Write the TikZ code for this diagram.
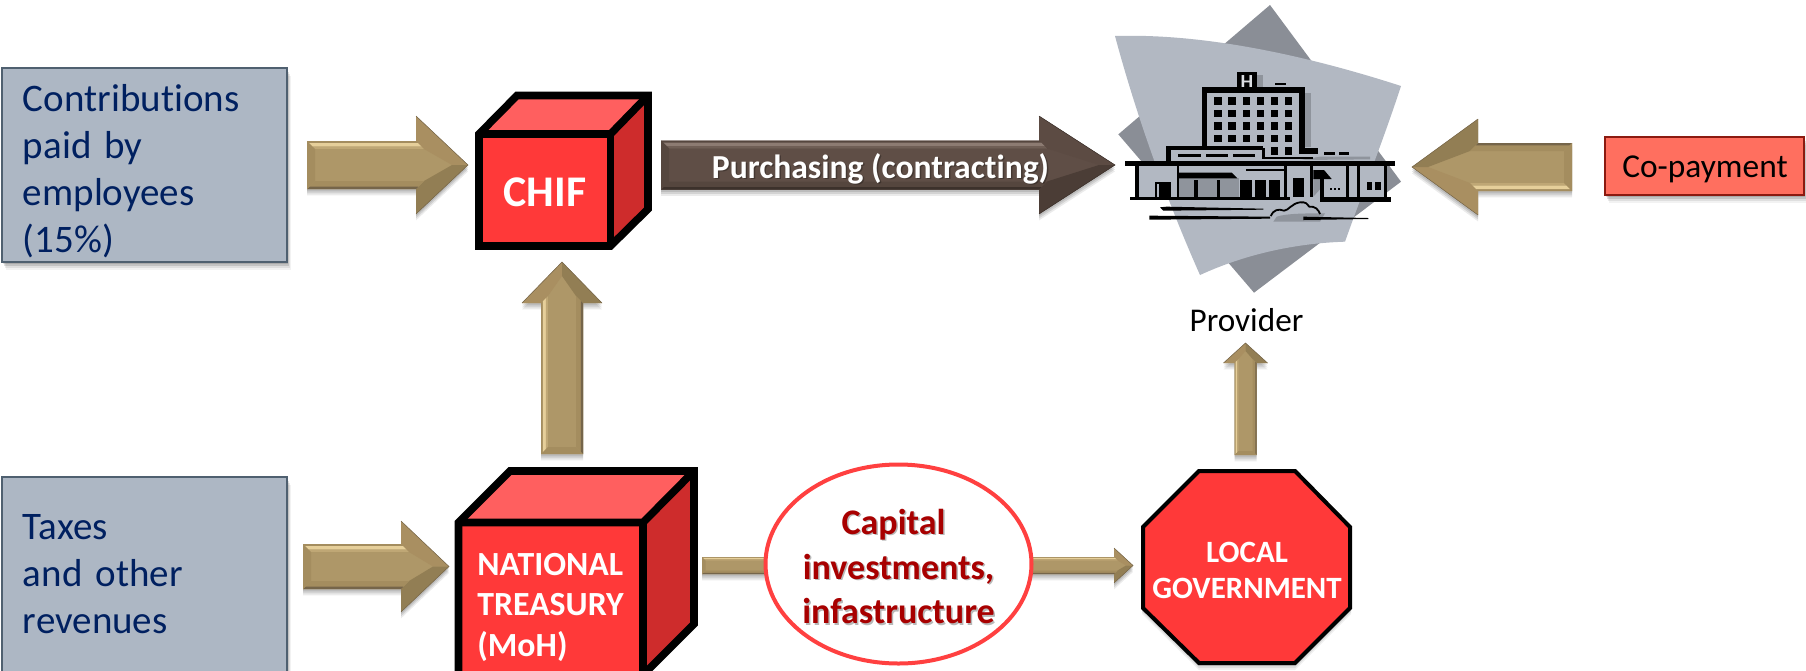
\documentclass[tikz,border=0pt]{standalone}
\usepackage{fontspec}
\setmainfont[Ligatures={NoCommon,NoRequired,NoContextual}]{Carlito}
\usetikzlibrary{shapes.geometric}
\definecolor{tanBase}{HTML}{AE9768}
\definecolor{tanLight}{HTML}{E6CF9A}
\definecolor{tanMid}{HTML}{BFA775}
\definecolor{tanEdge}{HTML}{A48D5F}
\definecolor{tanDark}{HTML}{75654A}
\definecolor{tanHtop}{HTML}{A98F61}
\definecolor{tanHbot}{HTML}{927E54}
\definecolor{brnBase}{HTML}{5F4E46}
\definecolor{brnLight}{HTML}{8C7B72}
\definecolor{brnMid}{HTML}{6F5E55}
\definecolor{brnEdge}{HTML}{55463E}
\definecolor{brnDark}{HTML}{3C312B}
\definecolor{brnHtop}{HTML}{5C4B43}
\definecolor{brnHbot}{HTML}{4B3D36}
\definecolor{boxFill}{HTML}{ADB7C4}
\definecolor{boxLine}{HTML}{4F6070}
\definecolor{navy}{HTML}{002060}
\definecolor{cubeFront}{HTML}{FF3939}
\definecolor{cubeTop}{HTML}{FF5F5F}
\definecolor{cubeSide}{HTML}{CE2C2C}
\definecolor{copayFill}{HTML}{FF6F5F}
\definecolor{copayLine}{HTML}{8B1A10}
\definecolor{ringRed}{HTML}{FF4040}
\definecolor{capRed}{HTML}{A80000}
\definecolor{hospBack}{HTML}{8A8E96}
\definecolor{hospFront}{HTML}{B2B8C2}
\definecolor{hospShade}{HTML}{8F949C}
% #1 tail coordinate, #2 angle, #3 length, #4 head start, #5 shaft half, #6 head half, #7 bevel, #8 colour prefix
\newcommand{\bevelarrow}[8]{%
  \foreach \sh/\op in {1.2pt/0.10,2.2pt/0.10,3.2pt/0.08}{%
  \begin{scope}[shift={(#1)},yshift=-\sh,rotate=#2]
    \fill[black,opacity=\op] (0,-#5)--(#4,-#5)--(#4,-#6)--(#3,0)--(#4,#6)--(#4,#5)--(0,#5)--cycle;
  \end{scope}}%
  \begin{scope}[shift={(#1)},rotate=#2]
    \fill[#8Base] (0,-#5)--(#4,-#5)--(#4,-#6)--(#3,0)--(#4,#6)--(#4,#5)--(0,#5)--cycle;
    \fill[#8Htop] (#4,-#6)--(#3,0)--({#3-2*#7},0)--({#4+#7},{-#5+#7})--(#4,-#5)--cycle;
    \fill[#8Hbot] (#4,#6)--(#3,0)--({#3-2*#7},0)--({#4+#7},{#5-#7})--(#4,#5)--cycle;
    \fill[#8Edge] (0,-#5)--(#4,-#5)--({#4+#7},{-#5+#7})--(#7,{-#5+#7})--cycle;
    \fill[#8Light] (0.25*#7,{-#5+0.25*#7})--({#4+0.25*#7},{-#5+0.25*#7})--({#4+0.7*#7},{-#5+0.7*#7})--(0.7*#7,{-#5+0.7*#7})--cycle;
    \fill[#8Mid] (0.7*#7,{-#5+0.7*#7})--({#4+0.7*#7},{-#5+0.7*#7})--({#4+#7},{-#5+#7})--(#7,{-#5+#7})--cycle;
    \fill[#8Edge] (0,#5)--(#4,#5)--({#4+#7},{#5-#7})--(#7,{#5-#7})--cycle;
    \fill[#8Dark] (0,#5)--(#4,#5)--({#4+0.3*#7},{#5-0.3*#7})--(0.3*#7,{#5-0.3*#7})--cycle;
    \fill[#8Edge] (0,-#5)--(#7,{-#5+#7})--(#7,{#5-#7})--(0,#5)--cycle;
    \draw[#8Dark,line width=0.25pt,line join=miter] (#4,-#6)--(#3,0)--(#4,#6);
  \end{scope}}
\newcommand{\softshadow}[4]{%
  \foreach \sh/\op in {1pt/0.12,2pt/0.12,3pt/0.08,4pt/0.05}{%
    \fill[black,opacity=\op] ([yshift=-\sh,xshift=0.5*\sh]#1,#2) rectangle ([yshift=-\sh,xshift=0.5*\sh]#3,#4);}}
\newcommand{\bk}[4]{\fill[black] (#1,#2) rectangle (#3,#4);}
\tikzset{
  boxtext/.style={rectangle,draw=boxLine,line width=1pt,fill=boxFill,text=navy,minimum width=142.5pt,
    inner xsep=10.5pt,inner ysep=0pt,text width=121.5pt,align=left,
    font=\fontsize{19.5}{23.5}\selectfont},
  cubeline/.style={draw=black,line width=3.8pt,line join=miter,miter limit=10},
  whitebold/.style={text=white,font=\bfseries,align=left,inner sep=0pt},
  shadowtext/.style={text=black,opacity=0.28,inner sep=0pt}
}
\begin{document}
\begin{tikzpicture}[x=0.5pt,y=-0.5pt]
\useasboundingbox (0,0) rectangle (1806,670);
\fill[white] (0,0) rectangle (1806,670);
\clip (0,0) rectangle (1806,670);

% ---- coordinates for block arrow tails
\coordinate (tailContrib) at (307,165);
\coordinate (tailTaxes) at (303,566.5);
\coordinate (tailUp) at (562,454);
\coordinate (tailPurch) at (661,165);
\coordinate (tailCopay) at (1572,167);
\coordinate (tailLocal) at (1245.5,455);
\coordinate (tailCap) at (702,565.5);

% ---- grey source boxes
\softshadow{2}{68}{287}{262}
\node[boxtext,minimum height=97pt] (contrib) at (144.5,165) {\rule{0pt}{19.5pt}Contributions\\paid by\\employees\\(15\%)};
\softshadow{2}{477}{287}{672}
\node[boxtext,minimum height=97.5pt] (taxes) at (144.5,574.5) {Taxes\\and other\\revenues};

% ---- block arrows
\bevelarrow{tailContrib}{0}{161}{109}{24}{49}{8}{tan}
\bevelarrow{tailTaxes}{0}{146}{98}{22.5}{45.5}{8}{tan}
\bevelarrow{tailUp}{90}{192}{151}{21}{40}{7}{tan}
\bevelarrow{tailPurch}{0}{454}{378}{24.5}{49}{8}{brn}
\bevelarrow{tailCopay}{180}{160}{94}{24}{48}{8}{tan}
\bevelarrow{tailLocal}{90}{112}{92}{11}{22}{4}{tan}
\bevelarrow{tailCap}{0}{431}{412}{8.5}{17.5}{3.5}{tan}

% ---- CHIF cube
\fill[cubeFront] (479,134) rectangle (610.5,246);
\fill[cubeTop] (479,134)--(517,95.5)--(648,95.5)--(610.5,134)--cycle;
\fill[cubeSide] (610.5,134)--(648,95.5)--(648,209)--(610.5,246)--cycle;
\draw[cubeline] (479,134)--(517,95.5)--(648,95.5)--(648,209)--(610.5,246)--(479,246)--cycle;
\draw[cubeline] (479,134)--(610.5,134)--(648,95.5);
\draw[cubeline] (610.5,134)--(610.5,246);
\node[whitebold,font=\fontsize{21.9}{26}\bfseries\selectfont] (chif) at (545,192) {CHIF};

% ---- NATIONAL TREASURY cube
\fill[cubeFront] (458.5,522.5) rectangle (643,690);
\fill[cubeTop] (458.5,522.5)--(510,471)--(694,471)--(643,522.5)--cycle;
\fill[cubeSide] (643,522.5)--(694,471)--(694,624)--(643,675)--cycle;
\draw[cubeline] (458.5,690)--(458.5,522.5)--(510,471)--(694,471)--(694,624)--(643,675);
\draw[cubeline] (458.5,522.5)--(643,522.5)--(694,471);
\draw[cubeline] (643,522.5)--(643,690);
\node[whitebold,font=\fontsize{16.9}{20.2}\bfseries\selectfont,anchor=north west] (treasury) at (477,553) {NATIONAL\\TREASURY\\(MoH)};

% ---- Co-payment
\softshadow{1605}{137}{1804}{195}
\node[rectangle,draw=copayLine,line width=1pt,fill=copayFill,minimum width=99.5pt,minimum height=29pt,inner sep=0pt] (copay) at (1704.5,166) {};
\node[inner sep=0pt,font=\fontsize{16.7}{20}\selectfont] (copaytext) at (1705,169) {Co-payment};

% ---- Purchasing label
\node[shadowtext,font=\fontsize{16.8}{20}\bfseries\selectfont] at (882,170) {Purchasing (contracting)};
\node[whitebold,font=\fontsize{16.8}{20}\bfseries\selectfont] (purch) at (880.5,168.5) {Purchasing (contracting)};

% ---- Capital ellipse
\node[ellipse,draw=ringRed,line width=2pt,fill=white,minimum width=133pt,minimum height=99.5pt,inner sep=0pt] (capital) at (898.5,564) {};
\node[shadowtext,align=center,font=\fontsize{18}{22.3}\bfseries\selectfont] at (900,568) {Capital\hspace*{5pt}\\investments,\\infastructure};
\node[text=capRed,inner sep=0pt,align=center,font=\fontsize{18}{22.3}\bfseries\selectfont] (capitaltext) at (898.5,566.5) {Capital\hspace*{5pt}\\investments,\\infastructure};

% ---- Local government octagon
\foreach \sh/\op in {1pt/0.10,2pt/0.08,3pt/0.06}{
\fill[black,opacity=\op,yshift=-\sh] (1199,470)--(1295,470)--(1351,527)--(1351,608)--(1295,664)--(1199,664)--(1142,608)--(1142,527)--cycle;}
\draw[fill=cubeFront,draw=black,line width=2pt,line join=miter] (1199,471)--(1295,471)--(1350,527)--(1350,608)--(1295,663)--(1199,663)--(1143,608)--(1143,527)--cycle;
\node[whitebold,align=center,font=\fontsize{15.5}{18}\bfseries\selectfont] (localgov) at (1247,570) {LOCAL\\GOVERNMENT};

% ---- Provider picture (drawn in 3x zoom coordinates)
\begin{scope}[shift={(1100,0)},x=0.16667pt,y=-0.16667pt]
  \fill[hospBack] (510,15)--(903,545)--(462,878)--(55,403)--cycle;
  \fill[hospFront] (45,108) .. controls (300,100) and (600,160) .. (903,258)
     .. controls (850,420) and (790,570) .. (735,725)
     .. controls (580,730) and (430,765) .. (300,825)
     .. controls (200,600) and (110,350) .. (45,108) -- cycle;
  % shadows
  \fill[hospShade] (615,280) rectangle (632,440);
  \fill[hospShade] (472,225) rectangle (488,262);
  \fill[hospShade] (238,535) rectangle (418,590);
  \fill[hospShade] (640,535)--(690,535)--(640,590)--cycle;
  \fill[hospShade] (530,650) .. controls (560,640) and (620,640) .. (675,640) -- (660,665) -- (520,665) -- cycle;
  \fill[hospShade] (660,470)--(810,470)--(810,478)--(600,480)--cycle;
  % building faces
  \fill[hospFront] (117,497) rectangle (230,590);
  \fill[hospFront] (418,510) rectangle (552,590);
  \fill[hospFront] (560,497) rectangle (630,590);
  \fill[hospFront] (672,497) rectangle (852,592);
  % H tower
  \bk{410}{215}{472}{270}
  \node[text=hospFront!45!white,inner sep=0pt,font=\fontsize{10}{11}\bfseries\selectfont] (hsign) at (441,247) {H};
  \bk{525}{248}{558}{256}
  % tower
  \bk{305}{262}{615}{278}
  \bk{305}{262}{322}{445}
  \bk{598}{262}{615}{462}
  \bk{598}{445}{655}{462}
  \foreach \yy in {292,330,367,405}{
    \foreach \xx in {343,385,428,470,512,555}{
      \fill[black] (\xx,\yy) rectangle ({\xx+22},{\yy+22});}}
  \bk{512}{442}{534}{464}
  \bk{555}{442}{577}{464}
  \bk{672}{457}{705}{465}
  \bk{717}{457}{747}{465}
  % wing
  \bk{198}{437}{490}{450}
  \bk{198}{437}{212}{490}
  \bk{485}{445}{495}{478}
  \bk{490}{470}{640}{477}
  \bk{235}{462}{302}{472}
  \bk{317}{462}{383}{472}
  \bk{398}{462}{465}{472}
  % roof and walls
  \bk{75}{484}{885}{497}
  \bk{105}{497}{117}{595}
  \bk{90}{590}{570}{600}
  \bk{660}{592}{873}{605}
  \bk{230}{497}{238}{592}
  \fill[black] (235,518)--(395,518)--(412,535)--(235,535)--cycle;
  \bk{283}{540}{295}{592}
  \bk{350}{540}{360}{592}
  \bk{438}{508}{552}{513}
  \bk{420}{540}{455}{592}
  \bk{465}{540}{497}{592}
  \bk{507}{540}{540}{592}
  \bk{552}{497}{560}{592}
  \bk{578}{535}{612}{592}
  \bk{630}{497}{640}{592}
  \fill[black] (640,510)--(672,510)--(695,537)--(640,537)--cycle;
  \bk{660}{535}{672}{600}
  \bk{738}{497}{748}{592}
  \bk{772}{497}{780}{592}
  \bk{852}{497}{862}{592}
  \bk{800}{545}{815}{570}
  \bk{825}{545}{842}{570}
  \bk{690}{565}{696}{570}
  \bk{702}{565}{708}{570}
  \bk{714}{565}{720}{570}
  \bk{165}{545}{212}{592}
  \fill[hospFront] (170,552) rectangle (177,590);
  % ground
  \fill[black] (180,622)--(200,620)--(490,626)--(490,629)--(190,632)--cycle;
  \fill[black] (148,647)--(510,650)--(510,656)--(148,659)--cycle;
  \fill[black] (610,650)--(805,654)--(805,657)--(610,660)--cycle;
  \draw[black,line width=0.9pt] (512,648) .. controls (520,630) and (535,625) .. (552,632)
     .. controls (565,632) and (575,610) .. (600,607)
     .. controls (618,605) and (622,612) .. (628,620)
     .. controls (645,618) and (655,628) .. (660,642);
\end{scope}
\node[inner sep=0pt,font=\fontsize{16.6}{20}\selectfont] (provider) at (1246.5,320) {Provider};
\end{tikzpicture}
\end{document}
